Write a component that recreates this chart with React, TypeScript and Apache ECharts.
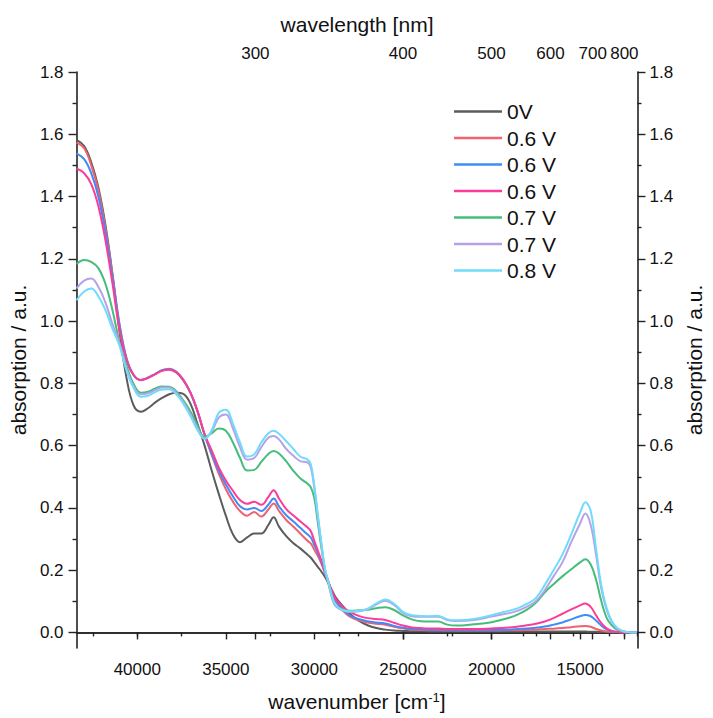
import React, { useEffect, useRef } from "react";
import * as echarts from "echarts";

const wavenumber = [
  43430, 43000, 42600, 42200, 41800, 41400, 41000, 40600, 40200, 39800,
  39400, 39000, 38600, 38200, 37800, 37400, 37000, 36600, 36200, 35800,
  35400, 35000, 34600, 34200, 33800, 33400, 33000, 32600, 32300, 32000,
  31600, 31200, 30800, 30400, 30200, 30000, 29800, 29600, 29400, 29200,
  29000, 28800, 28400, 28000, 27500, 27000, 26500, 26000, 25500, 25000,
  24500, 24000, 23500, 23000, 22500, 22000, 21000, 20000, 19000, 18500,
  18000, 17500, 17000, 16500, 16000, 15500, 15000, 14700, 14400, 14100,
  13800, 13500, 13200, 12900, 12600, 12300, 12000, 11800,
];

const abs0V = [
  1.582, 1.562, 1.51, 1.43, 1.31, 1.15, 0.965, 0.815, 0.728, 0.709,
  0.72, 0.738, 0.753, 0.765, 0.77, 0.766, 0.735, 0.67, 0.6, 0.52,
  0.445, 0.375, 0.315, 0.29, 0.305, 0.318, 0.318, 0.345, 0.37, 0.34,
  0.31, 0.287, 0.27, 0.25, 0.24, 0.225, 0.21, 0.195, 0.178, 0.157,
  0.135, 0.113, 0.085, 0.06, 0.038, 0.023, 0.014, 0.009, 0.006, 0.005,
  0.004, 0.004, 0.003, 0.003, 0.003, 0.003, 0.003, 0.003, 0.003, 0.003,
  0.003, 0.003, 0.003, 0.003, 0.003, 0.003, 0.003, 0.003, 0.002, 0.002,
  0.001, 0.001, 0.0, 0.0, 0.0, 0.0, 0.0, 0.0,
];

const abs06Va = [
  1.573, 1.555, 1.5, 1.42, 1.3, 1.15, 0.99, 0.88, 0.826, 0.811,
  0.818, 0.83, 0.842, 0.847, 0.838, 0.812, 0.77, 0.71, 0.635, 0.57,
  0.51, 0.46, 0.42, 0.39, 0.375, 0.387, 0.372, 0.395, 0.414, 0.39,
  0.362, 0.34, 0.318, 0.295, 0.285, 0.265, 0.245, 0.22, 0.19, 0.16,
  0.127, 0.1, 0.07, 0.051, 0.039, 0.032, 0.028, 0.025, 0.018, 0.013,
  0.009, 0.008, 0.007, 0.007, 0.006, 0.006, 0.006, 0.006, 0.007, 0.007,
  0.008, 0.009, 0.011, 0.012, 0.014, 0.017, 0.02, 0.021, 0.018, 0.011,
  0.006, 0.003, 0.002, 0.001, 0.0, 0.0, 0.0, 0.0,
];

const abs06Vb = [
  1.539, 1.52, 1.475, 1.4, 1.285, 1.14, 0.985, 0.877, 0.826, 0.811,
  0.818, 0.83, 0.842, 0.845, 0.836, 0.81, 0.77, 0.71, 0.635, 0.575,
  0.52, 0.475, 0.437, 0.405, 0.395, 0.4, 0.39, 0.41, 0.43, 0.405,
  0.377, 0.357, 0.336, 0.315, 0.305, 0.28, 0.255, 0.225, 0.193, 0.16,
  0.128, 0.103, 0.074, 0.055, 0.043, 0.036, 0.032, 0.029, 0.021, 0.015,
  0.011, 0.01, 0.009, 0.009, 0.008, 0.008, 0.008, 0.008, 0.009, 0.011,
  0.013, 0.015, 0.019, 0.025, 0.032, 0.042, 0.052, 0.056, 0.052, 0.038,
  0.022, 0.01, 0.004, 0.002, 0.001, 0.0, 0.0, 0.0,
];

const abs06Vc = [
  1.49, 1.475, 1.44, 1.37, 1.26, 1.12, 0.97, 0.872, 0.826, 0.81,
  0.817, 0.829, 0.84, 0.844, 0.835, 0.81, 0.77, 0.712, 0.637, 0.585,
  0.53, 0.488, 0.455, 0.425, 0.413, 0.42, 0.41, 0.435, 0.457, 0.43,
  0.397, 0.376, 0.357, 0.338, 0.325, 0.293, 0.262, 0.23, 0.195, 0.162,
  0.13, 0.108, 0.082, 0.066, 0.053, 0.046, 0.043, 0.04, 0.031, 0.022,
  0.016, 0.014, 0.013, 0.013, 0.011, 0.011, 0.011, 0.013, 0.016, 0.019,
  0.023, 0.028, 0.035, 0.046, 0.06, 0.074, 0.087, 0.093, 0.082, 0.055,
  0.03, 0.013, 0.005, 0.002, 0.001, 0.0, 0.0, 0.0,
];

const abs07Va = [
  1.183, 1.196, 1.19, 1.17, 1.12, 1.035, 0.93, 0.855, 0.797, 0.77,
  0.773, 0.783, 0.79, 0.789, 0.775, 0.745, 0.71, 0.665, 0.627, 0.64,
  0.655, 0.648, 0.61, 0.56, 0.52, 0.522, 0.548, 0.573, 0.583, 0.575,
  0.55, 0.52, 0.495, 0.478, 0.466, 0.43, 0.35, 0.27, 0.2, 0.155,
  0.11, 0.085, 0.073, 0.07, 0.071, 0.073, 0.078, 0.081, 0.072, 0.055,
  0.042, 0.036, 0.035, 0.035, 0.025, 0.022, 0.026, 0.033, 0.047, 0.058,
  0.073, 0.095, 0.128, 0.155, 0.18, 0.203, 0.225, 0.235, 0.218, 0.17,
  0.1, 0.047, 0.022, 0.009, 0.004, 0.001, 0.0, 0.0,
];

const abs07Vb = [
  1.105, 1.13, 1.137, 1.11, 1.06, 0.99, 0.928, 0.845, 0.79, 0.765,
  0.768, 0.778, 0.787, 0.787, 0.77, 0.74, 0.7, 0.655, 0.623, 0.645,
  0.69, 0.7, 0.655, 0.595, 0.555, 0.56, 0.595, 0.625, 0.631, 0.62,
  0.59, 0.568, 0.55, 0.546, 0.53, 0.46, 0.37, 0.28, 0.2, 0.158,
  0.113, 0.086, 0.07, 0.066, 0.068, 0.074, 0.09, 0.102, 0.088, 0.063,
  0.052, 0.05, 0.05, 0.05, 0.04, 0.037, 0.04, 0.051, 0.062, 0.07,
  0.083, 0.1, 0.135, 0.18, 0.225, 0.29, 0.35, 0.382, 0.345, 0.25,
  0.14, 0.072, 0.032, 0.012, 0.004, 0.001, 0.0, 0.0,
];

const abs08V = [
  1.067, 1.095, 1.105, 1.08, 1.035, 0.975, 0.92, 0.84, 0.785, 0.757,
  0.76, 0.772, 0.78, 0.781, 0.765, 0.735, 0.695, 0.65, 0.622, 0.65,
  0.705, 0.715, 0.67, 0.61, 0.565, 0.572, 0.61, 0.64, 0.648, 0.638,
  0.615, 0.59, 0.565, 0.556, 0.54, 0.47, 0.375, 0.285, 0.205, 0.16,
  0.115, 0.088, 0.072, 0.068, 0.07, 0.076, 0.093, 0.106, 0.092, 0.066,
  0.055, 0.053, 0.052, 0.053, 0.042, 0.039, 0.043, 0.055, 0.07, 0.078,
  0.092, 0.11, 0.152, 0.2, 0.25, 0.315, 0.385, 0.418, 0.39, 0.27,
  0.15, 0.078, 0.035, 0.014, 0.005, 0.001, 0.0, 0.0,
];

const seriesLabels = ["0V", "0.6 V", "0.6 V", "0.6 V", "0.7 V", "0.7 V", "0.8 V"];
const seriesValues = [abs0V, abs06Va, abs06Vb, abs06Vc, abs07Va, abs07Vb, abs08V];
const seriesColors = ["#5c5c5c", "#ef6270", "#3f8cf7", "#fb3c98", "#45bd7b", "#b6a2e6", "#70dbfb"];

const bottomTicks = [15000, 20000, 25000, 30000, 35000, 40000];
const bottomMinorTicks = [12500, 17500, 22500, 27500, 32500, 37500, 42500];
const topWavelengths = [300, 400, 500, 600, 700, 800];
const topMinorWavelengths = [250, 350, 450, 550, 650, 750, 850];
const yTicks = [0, 0.2, 0.4, 0.6, 0.8, 1.0, 1.2, 1.4, 1.6, 1.8];
const yMinorTicks = [0.1, 0.3, 0.5, 0.7, 0.9, 1.1, 1.3, 1.5, 1.7];

const FONT = "'Liberation Sans', Arial, sans-serif";
const AXIS_COLOR = "#222";
const X_MIN = 11760;
const X_MAX = 43430;
const Y_MIN = -0.05;
const Y_MAX = 1.8;

export default function App() {
  const ref = useRef<HTMLDivElement>(null);

  useEffect(() => {
    const chart = echarts.init(ref.current!, null, { renderer: "svg" });
    const names = seriesLabels.map((l, i) => `${l}#${i}`);
    const labelStyle = { fontSize: 17, fontFamily: FONT, color: "#111" };
    const lineStyle = { color: AXIS_COLOR, width: 1.6 };
    const tickStyle = { color: AXIS_COLOR, width: 1.4 };

    const xBase = { type: "value", min: X_MIN, max: X_MAX, inverse: true, splitLine: { show: false } };
    const yBase = { type: "value", min: Y_MIN, max: Y_MAX, splitLine: { show: false } };

    const yName = {
      name: "absorption / a.u.",
      nameLocation: "middle",
      nameTextStyle: { fontSize: 21, fontFamily: FONT, color: "#111" },
    };

    const option: any = {
      animation: false,
      backgroundColor: "#fff",
      grid: { left: 76, top: 72, width: 570, height: 576 },
      legend: {
        orient: "vertical",
        left: 454,
        top: 101,
        padding: 0,
        icon: "rect",
        itemWidth: 48,
        itemHeight: 2.5,
        itemGap: 5.5,
        textStyle: { fontSize: 21, fontFamily: FONT, color: "#111", lineHeight: 21 },
        formatter: (n: string) => n.split("#")[0],
        data: names,
      },
      xAxis: [
        {
          ...xBase,
          position: "bottom",
          axisLine: { show: true, lineStyle },
          axisTick: { show: true, length: 7, lineStyle: tickStyle, customValues: bottomTicks },
          axisLabel: { ...labelStyle, margin: 13, customValues: bottomTicks, formatter: (v: number) => String(v) },
          name: "{t|wavenumber [cm}{s|-1}{t|]}",
          nameLocation: "middle",
          nameGap: 40,
          nameTextStyle: {
            rich: {
              t: { fontSize: 21, fontFamily: FONT, color: "#111", lineHeight: 26 },
              s: { fontSize: 13, fontFamily: FONT, color: "#111", lineHeight: 13, verticalAlign: "top", padding: [3, 0, 0, 0] },
            },
          },
        },
        {
          ...xBase,
          position: "bottom",
          axisLine: { show: false },
          axisTick: { show: true, length: 4, lineStyle: tickStyle, customValues: bottomMinorTicks },
          axisLabel: { show: false },
        },
        {
          ...xBase,
          position: "top",
          axisLine: { show: true, lineStyle },
          axisTick: { show: true, inside: true, length: 7, lineStyle: tickStyle, customValues: topWavelengths.map((l) => 1e7 / l) },
          axisLabel: {
            ...labelStyle,
            margin: 10,
            customValues: topWavelengths.map((l) => 1e7 / l),
            formatter: (v: number) => String(Math.round(1e7 / v)),
          },
          name: "wavelength [nm]",
          nameLocation: "middle",
          nameGap: 37,
          nameTextStyle: { fontSize: 21, fontFamily: FONT, color: "#111" },
        },
        {
          ...xBase,
          position: "top",
          axisLine: { show: false },
          axisTick: { show: true, inside: true, length: 4, lineStyle: tickStyle, customValues: topMinorWavelengths.map((l) => 1e7 / l) },
          axisLabel: { show: false },
        },
      ],
      yAxis: [
        {
          ...yBase,
          position: "left",
          axisLine: { show: true, lineStyle },
          axisTick: { show: true, length: 8, lineStyle: tickStyle, customValues: yTicks },
          axisLabel: { ...labelStyle, margin: 13, customValues: yTicks, formatter: (v: number) => v.toFixed(1) },
          ...yName,
          nameGap: 42,
        },
        {
          ...yBase,
          position: "left",
          axisLine: { show: false },
          axisTick: { show: true, length: 4, lineStyle: tickStyle, customValues: yMinorTicks },
          axisLabel: { show: false },
        },
        {
          ...yBase,
          position: "right",
          axisLine: { show: true, lineStyle },
          axisTick: { show: true, length: 8, lineStyle: tickStyle, customValues: yTicks },
          axisLabel: { ...labelStyle, margin: 12, customValues: yTicks, formatter: (v: number) => v.toFixed(1) },
          ...yName,
          nameGap: 44,
        },
        {
          ...yBase,
          position: "right",
          axisLine: { show: false },
          axisTick: { show: true, length: 4, lineStyle: tickStyle, customValues: yMinorTicks },
          axisLabel: { show: false },
        },
      ],
      series: seriesValues.map((vals, i) => ({
        type: "line",
        name: names[i],
        xAxisIndex: 0,
        yAxisIndex: 0,
        symbol: "none",
        smooth: 0.4,
        color: seriesColors[i],
        lineStyle: { color: seriesColors[i], width: 2 },
        data: wavenumber.map((w, k) => [w, vals[k]]),
      })),
    };

    chart.setOption(option);
    return () => chart.dispose();
  }, []);

  return (
    <div
      ref={ref}
      style={{ position: "fixed", left: 0, top: 0, width: 713, height: 718, background: "#fff" }}
    />
  );
}
